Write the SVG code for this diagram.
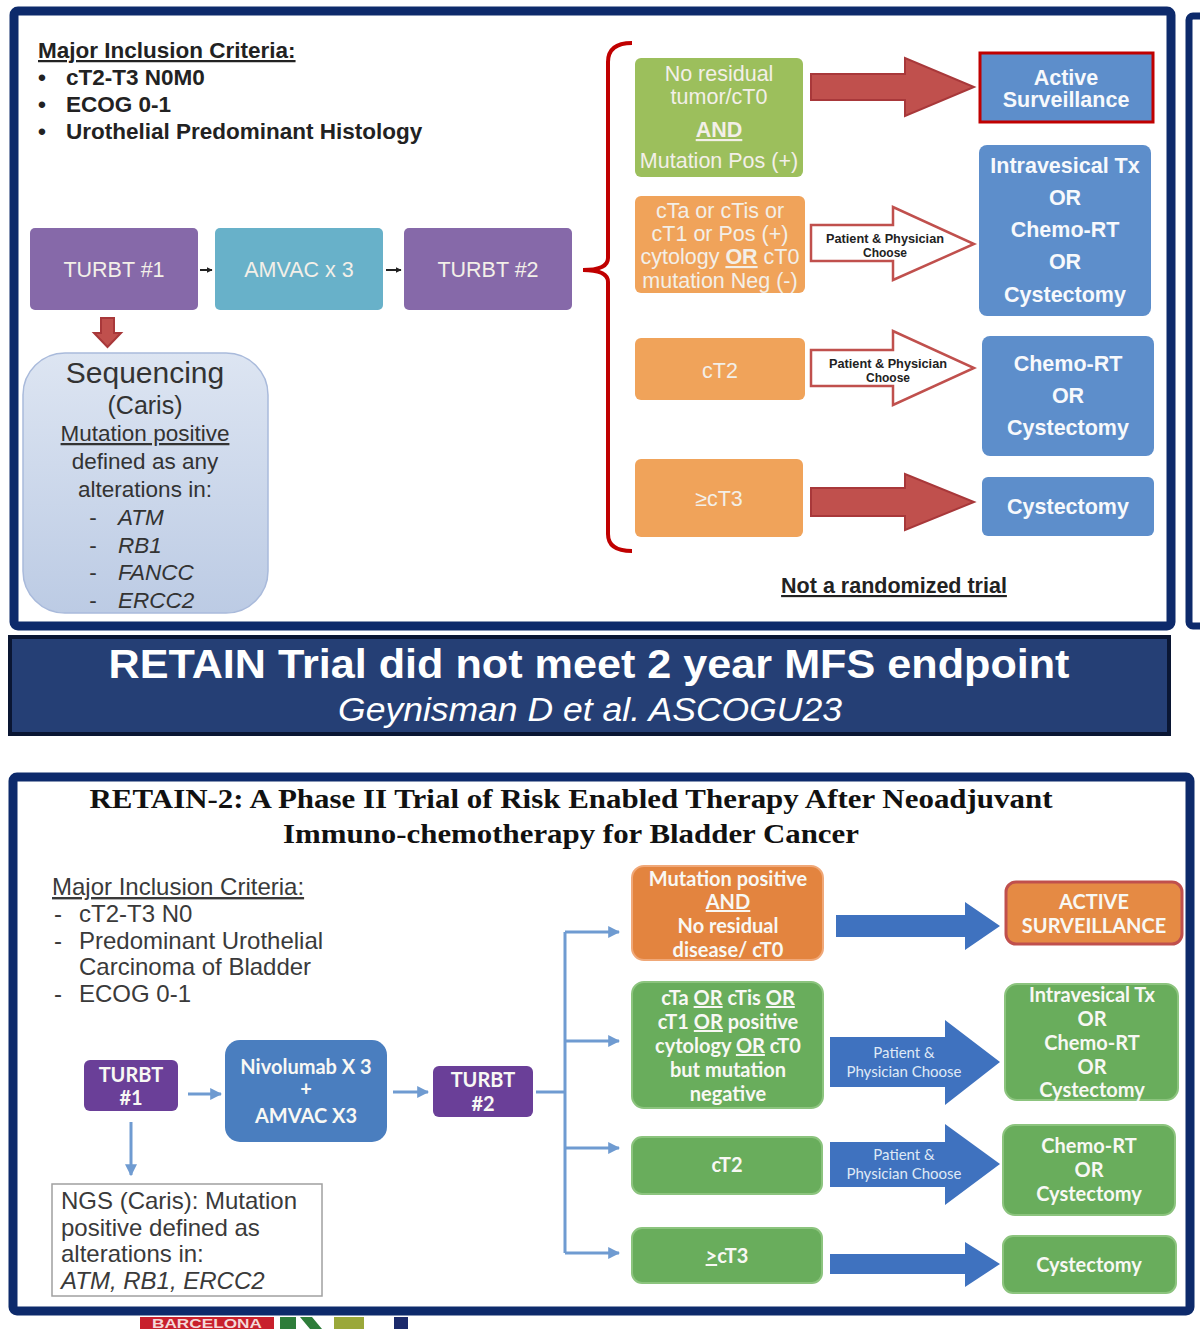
<svg xmlns="http://www.w3.org/2000/svg" width="1200" height="1329" viewBox="0 0 1200 1329">
<style>
.frame{fill:#ffffff;stroke:#0d2a6b;stroke-width:9}
.sans{font-family:"Liberation Sans",Arial,sans-serif}
.crit{font-family:"Liberation Sans",Arial,sans-serif;font-weight:bold;font-size:22.5px;fill:#222}
.crit2{font-family:"Liberation Sans",Arial,sans-serif;font-size:24px;fill:#3a3a3a}
.purple{fill:#8669a9}
.teal{fill:#68b1c9}
.green{fill:#9cbf5c}
.orange{fill:#f0a35a}
.blue{fill:#5d8ecb}
.wt{font-family:"Liberation Sans",Arial,sans-serif;font-size:21.5px;fill:#f3efe8;text-anchor:middle}
.bt{font-family:"Liberation Sans",Arial,sans-serif;font-size:21.5px;font-weight:bold;fill:#f7f9fc;text-anchor:middle}
.redarrow{fill:#c0504d;stroke:#a8383a;stroke-width:2}
.outarrow{fill:#ffffff;stroke:#c0504d;stroke-width:2.5}
.small{font-family:"Liberation Sans",Arial,sans-serif;font-size:12px;font-weight:bold;fill:#222;text-anchor:middle}
.seq{font-family:"Liberation Sans",Arial,sans-serif;fill:#333;text-anchor:middle}
.seqi{font-family:"Liberation Sans",Arial,sans-serif;fill:#333;font-style:italic;font-size:22.5px}
.bpurple{fill:#6a3f98}
.bblue{fill:#4a7ebf}
.borange{fill:#e3843f;stroke:#f0a878;stroke-width:2}
.bgreen{fill:#69ad5c;stroke:#8cc47e;stroke-width:2}
.bw{font-family:Lato,"Open Sans",sans-serif;font-weight:bold;font-size:20px;fill:#f8f8f4;text-anchor:middle}
.barrow{fill:#3f72bf}
.bsmall{font-family:Lato,"Open Sans",sans-serif;font-size:15px;fill:#dfe9f6;text-anchor:middle}
.conn{fill:none;stroke:#6f9bd1;stroke-width:3}
</style>
<defs>
<marker id="ah" viewBox="0 0 10 10" refX="9" refY="5" markerWidth="4" markerHeight="4" orient="auto">
<path d="M0,0 L10,5 L0,10 z" fill="#6f9bd1"/>
</marker>
<marker id="ahk" viewBox="0 0 10 10" refX="9" refY="5" markerWidth="3" markerHeight="3" orient="auto">
<path d="M0,0 L10,5 L0,10 z" fill="#222"/>
</marker>
<linearGradient id="seqg" x1="0" y1="0" x2="0" y2="1">
<stop offset="0" stop-color="#dde5f2"/>
<stop offset="1" stop-color="#bccbe4"/>
</linearGradient>
</defs>

<rect width="1200" height="1329" fill="#ffffff"/>

<!-- panels -->
<g id="panel-top">
<rect class="frame" x="14" y="11" width="1157" height="615" rx="4"/>
</g>
<g id="panel-right-partial">
<rect x="1189" y="16" width="60" height="610" rx="4" fill="#ffffff" stroke="#0d2a6b" stroke-width="7"/>
</g>
<g id="banner">
<rect x="10" y="637" width="1159" height="97" fill="#253f75" stroke="#0a1633" stroke-width="4"/>
<text x="589" y="678" class="sans" font-size="40" font-weight="bold" fill="#ffffff" text-anchor="middle" textLength="961" lengthAdjust="spacingAndGlyphs">RETAIN Trial did not meet 2 year MFS endpoint</text>
<text x="590" y="721" class="sans" font-size="33" font-style="italic" fill="#ffffff" text-anchor="middle" textLength="504" lengthAdjust="spacingAndGlyphs">Geynisman D et al. ASCOGU23</text>
</g>
<g id="panel-bottom">
<rect class="frame" x="13" y="777" width="1177" height="534" rx="4"/>
</g>

<!-- TOP PANEL -->
<g id="criteria-top">
<text x="38" y="58" class="crit" text-decoration="underline">Major Inclusion Criteria:</text>
<text x="38" y="85" class="crit">•</text><text x="66" y="85" class="crit">cT2-T3 N0M0</text>
<text x="38" y="112" class="crit">•</text><text x="66" y="112" class="crit">ECOG 0-1</text>
<text x="38" y="139" class="crit">•</text><text x="66" y="139" class="crit">Urothelial Predominant Histology</text>
</g>

<g id="turbt1-top">
<rect class="purple" x="30" y="228" width="168" height="82" rx="5"/>
<text x="114" y="277" class="wt">TURBT #1</text>
</g>
<g id="amvac-top">
<rect class="teal" x="215" y="228" width="168" height="82" rx="5"/>
<text x="299" y="277" class="wt">AMVAC x 3</text>
</g>
<g id="turbt2-top">
<rect class="purple" x="404" y="228" width="168" height="82" rx="5"/>
<text x="488" y="277" class="wt">TURBT #2</text>
</g>

<g id="sequencing">
<rect x="23" y="353" width="245" height="260" rx="42" fill="url(#seqg)" stroke="#a9badb" stroke-width="1.5"/>
<text x="145" y="383" class="seq" font-size="30">Sequencing</text>
<text x="145" y="414" class="seq" font-size="25">(Caris)</text>
<text x="145" y="441" class="seq" font-size="22.5" text-decoration="underline">Mutation positive</text>
<text x="145" y="469" class="seq" font-size="22.5">defined as any</text>
<text x="145" y="497" class="seq" font-size="22.5">alterations in:</text>
<text x="93" y="525" class="seq" font-size="22.5">-</text><text x="118" y="525" class="seqi">ATM</text>
<text x="93" y="553" class="seq" font-size="22.5">-</text><text x="118" y="553" class="seqi">RB1</text>
<text x="93" y="580" class="seq" font-size="22.5">-</text><text x="118" y="580" class="seqi">FANCC</text>
<text x="93" y="608" class="seq" font-size="22.5">-</text><text x="118" y="608" class="seqi">ERCC2</text>
</g>

<g id="no-residual">
<rect class="green" x="635" y="58" width="168" height="119" rx="6"/>
<text x="719" y="81" class="wt">No residual</text>
<text x="719" y="104" class="wt">tumor/cT0</text>
<text x="719" y="137" class="wt" font-weight="bold" text-decoration="underline">AND</text>
<text x="719" y="168" class="wt">Mutation Pos (+)</text>
</g>
<g id="cta-group">
<rect class="orange" x="635" y="196" width="170" height="97" rx="6"/>
<text x="720" y="218" class="wt">cTa or cTis or</text>
<text x="720" y="241" class="wt">cT1 or Pos (+)</text>
<text x="720" y="264" class="wt">cytology <tspan font-weight="bold" text-decoration="underline">OR</tspan> cT0</text>
<text x="720" y="288" class="wt">mutation Neg (-)</text>
</g>
<g id="ct2-top">
<rect class="orange" x="635" y="338" width="170" height="62" rx="6"/>
<text x="720" y="378" class="wt">cT2</text>
</g>
<g id="ct3-top">
<rect class="orange" x="635" y="459" width="168" height="78" rx="6"/>
<text x="719" y="506" class="wt">≥cT3</text>
</g>

<g id="active-top">
<rect class="blue" x="980" y="53" width="173" height="69" stroke="#c00000" stroke-width="3"/>
<text x="1066" y="85" class="bt">Active</text>
<text x="1066" y="107" class="bt">Surveillance</text>
</g>
<g id="intravesical-top">
<rect class="blue" x="979" y="145" width="172" height="171" rx="8"/>
<text x="1065" y="173" class="bt">Intravesical Tx</text>
<text x="1065" y="205" class="bt">OR</text>
<text x="1065" y="237" class="bt">Chemo-RT</text>
<text x="1065" y="269" class="bt">OR</text>
<text x="1065" y="302" class="bt">Cystectomy</text>
</g>
<g id="chemo-top">
<rect class="blue" x="982" y="336" width="172" height="120" rx="8"/>
<text x="1068" y="371" class="bt">Chemo-RT</text>
<text x="1068" y="403" class="bt">OR</text>
<text x="1068" y="435" class="bt">Cystectomy</text>
</g>
<g id="cystectomy-top">
<rect class="blue" x="982" y="477" width="172" height="59" rx="6"/>
<text x="1068" y="514" class="bt">Cystectomy</text>
</g>

<g id="note-top">
<text x="894" y="593" class="sans" font-size="21.5" font-weight="bold" fill="#222" text-anchor="middle" text-decoration="underline">Not a randomized trial</text>
</g>

<!-- BOTTOM PANEL -->
<g id="title-bottom">
<text x="571" y="808" font-family="'Liberation Serif','Times New Roman',serif" font-size="28" font-weight="bold" fill="#111" text-anchor="middle" textLength="963" lengthAdjust="spacingAndGlyphs">RETAIN-2: A Phase II Trial of Risk Enabled Therapy After Neoadjuvant</text>
<text x="571" y="843" font-family="'Liberation Serif','Times New Roman',serif" font-size="28" font-weight="bold" fill="#111" text-anchor="middle" textLength="576" lengthAdjust="spacingAndGlyphs">Immuno-chemotherapy for Bladder Cancer</text>
</g>

<g id="criteria-bottom">
<text x="52" y="895" class="crit2" text-decoration="underline">Major Inclusion Criteria:</text>
<text x="54" y="922" class="crit2">-</text><text x="79" y="922" class="crit2">cT2-T3 N0</text>
<text x="54" y="949" class="crit2">-</text><text x="79" y="949" class="crit2">Predominant Urothelial</text>
<text x="79" y="975" class="crit2">Carcinoma of Bladder</text>
<text x="54" y="1002" class="crit2">-</text><text x="79" y="1002" class="crit2">ECOG 0-1</text>
</g>

<g id="turbt1-bottom">
<rect class="bpurple" x="84" y="1060" width="94" height="51" rx="6"/>
<text x="131" y="1082" class="bw" font-size="18">TURBT</text>
<text x="131" y="1105" class="bw" font-size="18">#1</text>
</g>
<g id="nivolumab">
<rect class="bblue" x="225" y="1040" width="162" height="102" rx="15"/>
<text x="306" y="1074" class="bw" font-size="19">Nivolumab X 3</text>
<text x="306" y="1096" class="bw" font-size="19">+</text>
<text x="306" y="1123" class="bw" font-size="19">AMVAC X3</text>
</g>
<g id="turbt2-bottom">
<rect class="bpurple" x="433" y="1066" width="100" height="51" rx="6"/>
<text x="483" y="1087" class="bw" font-size="18">TURBT</text>
<text x="483" y="1111" class="bw" font-size="18">#2</text>
</g>
<g id="ngs">
<rect x="52" y="1184" width="270" height="112" fill="#ffffff" stroke="#a0a0a0" stroke-width="1.5"/>
<text x="61" y="1209" class="crit2">NGS (Caris): Mutation</text>
<text x="61" y="1236" class="crit2">positive defined as</text>
<text x="61" y="1262" class="crit2">alterations in:</text>
<text x="61" y="1289" class="crit2" font-style="italic">ATM, RB1, ERCC2</text>
</g>

<g id="mut-pos">
<rect class="borange" x="632" y="866" width="191" height="94" rx="12"/>
<text x="728" y="886" class="bw">Mutation positive</text>
<text x="728" y="909" class="bw" text-decoration="underline">AND</text>
<text x="728" y="933" class="bw">No residual</text>
<text x="728" y="957" class="bw">disease/ cT0</text>
</g>
<g id="cta-bottom">
<rect class="bgreen" x="632" y="982" width="191" height="126" rx="12"/>
<text x="728" y="1005" class="bw">cTa <tspan text-decoration="underline">OR</tspan> cTis <tspan text-decoration="underline">OR</tspan></text>
<text x="728" y="1029" class="bw">cT1 <tspan text-decoration="underline">OR</tspan> positive</text>
<text x="728" y="1053" class="bw">cytology <tspan text-decoration="underline">OR</tspan> cT0</text>
<text x="728" y="1077" class="bw">but mutation</text>
<text x="728" y="1101" class="bw">negative</text>
</g>
<g id="ct2-bottom">
<rect class="bgreen" x="632" y="1137" width="190" height="57" rx="10"/>
<text x="727" y="1172" class="bw">cT2</text>
</g>
<g id="ct3-bottom">
<rect class="bgreen" x="632" y="1228" width="190" height="55" rx="10"/>
<text x="727" y="1263" class="bw"><tspan text-decoration="underline">&gt;</tspan>cT3</text>
</g>

<g id="active-bottom">
<rect x="1006" y="882" width="176" height="62" rx="10" fill="#e58a44" stroke="#c0504d" stroke-width="3"/>
<text x="1094" y="909" class="bw" font-size="18.5">ACTIVE</text>
<text x="1094" y="933" class="bw" font-size="18.5">SURVEILLANCE</text>
</g>
<g id="intravesical-bottom">
<rect class="bgreen" x="1005" y="984" width="173" height="116" rx="12"/>
<text x="1092" y="1002" class="bw">Intravesical Tx</text>
<text x="1092" y="1026" class="bw">OR</text>
<text x="1092" y="1050" class="bw">Chemo-RT</text>
<text x="1092" y="1074" class="bw">OR</text>
<text x="1092" y="1097" class="bw">Cystectomy</text>
</g>
<g id="chemo-bottom">
<rect class="bgreen" x="1003" y="1125" width="172" height="90" rx="12"/>
<text x="1089" y="1153" class="bw">Chemo-RT</text>
<text x="1089" y="1177" class="bw">OR</text>
<text x="1089" y="1201" class="bw">Cystectomy</text>
</g>
<g id="cystectomy-bottom">
<rect class="bgreen" x="1003" y="1236" width="173" height="57" rx="10"/>
<text x="1089" y="1272" class="bw">Cystectomy</text>
</g>

<!-- CONNECTORS -->
<g id="connectors">
<line x1="200" y1="270" x2="212" y2="270" stroke="#222" stroke-width="2" marker-end="url(#ahk)"/>
<line x1="386" y1="270" x2="401" y2="270" stroke="#222" stroke-width="2" marker-end="url(#ahk)"/>
<polygon class="redarrow" points="101,318 114,318 114,333 121,333 107.5,347 94,333 101,333"/>
<path d="M632,43 Q608,43 608,62 L608,258 Q608,270 583,270 Q608,270 608,282 L608,534 Q608,551 632,551" fill="none" stroke="#c00000" stroke-width="4"/>
<polygon class="redarrow" points="811,74 905,74 905,58 974,87 905,116 905,100 811,100"/>
<g>
<polygon class="outarrow" points="811,225 893,225 893,207 974,244 893,280 893,261 811,261"/>
<text x="885" y="243" class="small" textLength="118" lengthAdjust="spacingAndGlyphs">Patient &amp; Physician</text>
<text x="885" y="257" class="small">Choose</text>
</g>
<g>
<polygon class="outarrow" points="811,350 893,350 893,331 974,368 893,405 893,386 811,386"/>
<text x="888" y="368" class="small" textLength="118" lengthAdjust="spacingAndGlyphs">Patient &amp; Physician</text>
<text x="888" y="382" class="small">Choose</text>
</g>
<polygon class="redarrow" points="811,488 905,488 905,474 974,502 905,530 905,516 811,516"/>
<line x1="188" y1="1094" x2="221" y2="1094" class="conn" marker-end="url(#ah)"/>
<line x1="393" y1="1092" x2="428" y2="1092" class="conn" marker-end="url(#ah)"/>
<line x1="131" y1="1122" x2="131" y2="1175" class="conn" marker-end="url(#ah)"/>
<path d="M536,1092 L565,1092" class="conn"/>
<path d="M565,932 L565,1253" class="conn"/>
<line x1="565" y1="932" x2="619" y2="932" class="conn" marker-end="url(#ah)"/>
<line x1="565" y1="1041" x2="619" y2="1041" class="conn" marker-end="url(#ah)"/>
<line x1="565" y1="1148" x2="619" y2="1148" class="conn" marker-end="url(#ah)"/>
<line x1="565" y1="1253" x2="619" y2="1253" class="conn" marker-end="url(#ah)"/>
<polygon class="barrow" points="836,915 965,915 965,902 1000,926 965,950 965,937 836,937"/>
<g>
<polygon class="barrow" points="830,1037 945,1037 945,1020 1000,1062 945,1105 945,1087 830,1087"/>
<text x="904" y="1058" class="bsmall">Patient &amp;</text>
<text x="904" y="1077" class="bsmall">Physician Choose</text>
</g>
<g>
<polygon class="barrow" points="830,1142 945,1142 945,1124 1000,1164 945,1205 945,1187 830,1187"/>
<text x="904" y="1160" class="bsmall">Patient &amp;</text>
<text x="904" y="1179" class="bsmall">Physician Choose</text>
</g>
<polygon class="barrow" points="830,1254 965,1254 965,1242 1000,1264 965,1287 965,1274 830,1274"/>
</g>

<!-- partial logo strip below -->
<g id="logo-strip">
<rect x="140" y="1317" width="134" height="12" fill="#c8202c"/>
<text x="207" y="1328" class="sans" font-size="12" font-weight="bold" fill="#f4d8d8" text-anchor="middle" textLength="110" lengthAdjust="spacingAndGlyphs">BARCELONA</text>
<path d="M280,1317 L296,1317 L296,1329 L280,1329 Z M300,1317 L312,1317 L322,1329 L310,1329 Z" fill="#2e7d3a"/>
<rect x="334" y="1317" width="30" height="12" fill="#9aa83a"/>
<rect x="394" y="1317" width="14" height="12" fill="#1b2a6b"/>
</g>
</svg>
